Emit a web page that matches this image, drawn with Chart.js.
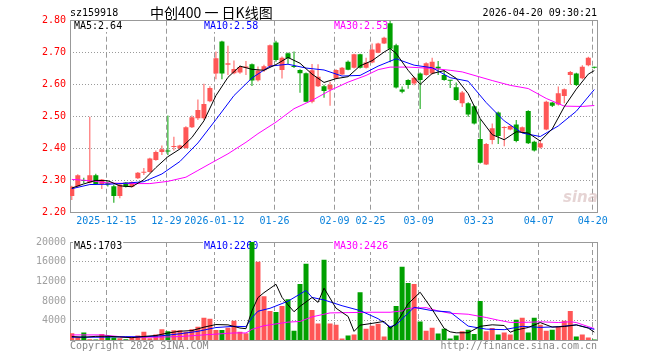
<!DOCTYPE html>
<html>
<head>
<meta charset="utf-8">
<script src="https://cdn.jsdelivr.net/npm/chart.js@4.4.1/dist/chart.umd.min.js"></script>
<style>
  html, body { margin: 0; padding: 0; background: #fff; }
  #wrap { position: relative; width: 660px; height: 360px; overflow: hidden; }
  canvas { position: absolute; left: 0; }
  .txt { position: absolute; font: 10px/12px "DejaVu Sans Mono", monospace; white-space: nowrap; }
</style>
</head>
<body>
<div id="wrap">
  <canvas id="kChart" width="660" height="232" style="top:0"></canvas>
  <canvas id="volChart" width="660" height="128" style="top:232px"></canvas>
  <div class="txt" style="left:70px;top:7px;color:#000">sz159918</div>
  <div class="txt" style="left:150px;top:4px;font:14px/16px 'Noto Sans CJK SC';color:#000">中创400 一 日K线图</div>
  <div class="txt" style="right:63px;top:7px;color:#000">2026-04-20 09:30:21</div>
  <div class="txt" style="left:70px;top:340px;color:#888">Copyright 2026 SINA.COM</div>
  <div class="txt" style="right:63px;top:340px;color:#888">http://finance.sina.com.cn</div>
  <div class="txt" style="left:563px;top:189px;font:italic bold 15px/16px 'DejaVu Sans';color:rgba(205,170,170,.5)">sina</div>
</div>
<script>
// trading days shown (one candle each)
var dates = [
  '2025-12-05','2025-12-08','2025-12-09','2025-12-10','2025-12-11','2025-12-12','2025-12-15','2025-12-16','2025-12-17','2025-12-18',
  '2025-12-19','2025-12-22','2025-12-23','2025-12-24','2025-12-25','2025-12-26','2025-12-29','2025-12-30','2025-12-31','2026-01-05',
  '2026-01-06','2026-01-07','2026-01-08','2026-01-09','2026-01-12','2026-01-13','2026-01-14','2026-01-15','2026-01-16','2026-01-19',
  '2026-01-20','2026-01-21','2026-01-22','2026-01-23','2026-01-26','2026-01-27','2026-01-28','2026-01-29','2026-01-30','2026-02-02',
  '2026-02-03','2026-02-04','2026-02-05','2026-02-06','2026-02-09','2026-02-10','2026-02-11','2026-02-12','2026-02-13','2026-02-24',
  '2026-02-25','2026-02-26','2026-02-27','2026-03-02','2026-03-03','2026-03-04','2026-03-05','2026-03-06','2026-03-09','2026-03-10',
  '2026-03-11','2026-03-12','2026-03-13','2026-03-16','2026-03-17','2026-03-18','2026-03-19','2026-03-20','2026-03-23','2026-03-24',
  '2026-03-25','2026-03-26','2026-03-27','2026-03-30','2026-03-31','2026-04-01','2026-04-02','2026-04-03','2026-04-07','2026-04-08',
  '2026-04-09','2026-04-10','2026-04-13','2026-04-14','2026-04-15','2026-04-16','2026-04-17','2026-04-20'
];
var tickDates = ['2025-12-15','2025-12-29','2026-01-12','2026-01-26','2026-02-09','2026-02-25','2026-03-09','2026-03-23','2026-04-07','2026-04-20'];
var tickText = ['2025-12-15','12-29','2026-01-12','01-26','02-09','02-25','03-09','03-23','04-07','04-20'];

var open = [
  2.252,2.283,2.302,2.294,2.317,2.290,2.292,2.283,2.252,2.294,
  2.281,2.308,2.325,2.327,2.365,2.390,2.393,2.405,2.401,2.402,
  2.467,2.495,2.495,2.548,2.635,2.735,2.662,2.636,2.638,2.653,
  2.664,2.614,2.645,2.657,2.732,2.646,2.698,2.657,2.646,2.636,
  2.547,2.595,2.595,2.585,2.620,2.632,2.672,2.653,2.695,2.653,
  2.669,2.700,2.729,2.792,2.723,2.585,2.615,2.604,2.635,2.630,
  2.635,2.656,2.630,2.613,2.592,2.542,2.542,2.533,2.430,2.351,
  2.427,2.513,2.465,2.460,2.476,2.453,2.518,2.422,2.404,2.460,
  2.544,2.538,2.565,2.630,2.635,2.620,2.661,2.655
];
var high = [
  2.284,2.320,2.309,2.500,2.322,2.305,2.298,2.287,2.292,2.296,
  2.298,2.327,2.340,2.372,2.394,2.410,2.504,2.437,2.412,2.470,
  2.504,2.554,2.603,2.595,2.704,2.737,2.722,2.676,2.660,2.674,
  2.666,2.657,2.662,2.726,2.737,2.688,2.701,2.704,2.648,2.638,
  2.665,2.664,2.600,2.609,2.648,2.655,2.676,2.697,2.697,2.684,
  2.729,2.731,2.750,2.800,2.728,2.594,2.617,2.625,2.638,2.670,
  2.684,2.674,2.646,2.614,2.607,2.580,2.545,2.536,2.492,2.418,
  2.479,2.516,2.470,2.473,2.490,2.469,2.520,2.425,2.427,2.550,
  2.546,2.594,2.588,2.643,2.637,2.661,2.687,2.656
];
var low = [
  2.240,2.280,2.292,2.292,2.288,2.274,2.282,2.231,2.245,2.279,
  2.279,2.305,2.318,2.325,2.362,2.380,2.380,2.394,2.398,2.400,
  2.465,2.490,2.490,2.545,2.617,2.617,2.630,2.633,2.634,2.630,
  2.596,2.610,2.640,2.655,2.672,2.619,2.665,2.652,2.575,2.545,
  2.542,2.593,2.559,2.534,2.617,2.630,2.645,2.651,2.651,2.651,
  2.667,2.698,2.727,2.670,2.588,2.573,2.587,2.598,2.524,2.628,
  2.632,2.630,2.612,2.590,2.550,2.530,2.500,2.476,2.354,2.349,
  2.414,2.415,2.408,2.458,2.420,2.451,2.415,2.391,2.401,2.458,
  2.530,2.535,2.542,2.600,2.596,2.617,2.658,2.651
];
var close = [
  2.281,2.317,2.299,2.317,2.290,2.304,2.288,2.252,2.288,2.281,
  2.296,2.325,2.327,2.369,2.390,2.398,2.391,2.408,2.410,2.467,
  2.498,2.521,2.540,2.590,2.683,2.635,2.667,2.649,2.655,2.657,
  2.613,2.644,2.658,2.723,2.677,2.684,2.683,2.655,2.636,2.547,
  2.645,2.625,2.580,2.600,2.646,2.653,2.647,2.695,2.653,2.669,
  2.710,2.729,2.747,2.712,2.591,2.578,2.599,2.622,2.615,2.667,
  2.672,2.651,2.615,2.612,2.552,2.576,2.507,2.479,2.356,2.415,
  2.464,2.440,2.467,2.471,2.424,2.467,2.417,2.394,2.417,2.547,
  2.534,2.573,2.586,2.640,2.599,2.656,2.684,2.653
];
var volume = [
  1470,670,1600,270,200,1330,930,600,470,270,
  600,1000,1800,470,1200,2270,1870,2070,2070,1800,
  2270,2800,4600,4400,2130,2130,2600,4000,1800,1470,
  20300,16000,9000,6000,5800,7000,8400,2000,11470,15600,
  6200,3470,16400,3470,3200,400,1000,1200,9800,2400,
  3000,3400,800,2800,7000,15000,11670,11470,3870,2000,
  2600,1400,2400,400,1000,1870,2200,1330,8000,1870,
  2530,1200,1600,1200,4200,4600,1600,4600,3200,2000,
  2200,2800,4000,6000,800,1200,600,200
];

// moving average lines, [candle index, value]
var ma5 = [[0,2.277],[2,2.290],[4,2.301],[6,2.300],[8,2.284],[10,2.281],[12,2.303],[14,2.341],[16,2.375],[18,2.399],
  [20,2.435],[22,2.487],[24,2.566],[26,2.623],[28,2.658],[30,2.648],[32,2.645],[34,2.663],[36,2.685],[38,2.667],
  [40,2.633],[42,2.607],[44,2.619],[46,2.625],[48,2.659],[50,2.675],[52,2.702],[53,2.713],[54,2.698],[56,2.645],
  [58,2.601],[60,2.635],[62,2.644],[64,2.620],[66,2.572],[68,2.494],[70,2.444],[72,2.428],[74,2.453],[76,2.449],
  [78,2.424],[80,2.462],[82,2.531],[84,2.586],[86,2.633],[87,2.644]];
var ma10 = [[0,2.275],[3,2.288],[6,2.289],[9,2.292],[12,2.297],[15,2.321],[18,2.360],[21,2.418],[24,2.491],[27,2.566],
  [30,2.621],[33,2.658],[36,2.664],[39,2.652],[42,2.646],[45,2.627],[48,2.629],[51,2.658],[54,2.681],[57,2.661],
  [60,2.653],[63,2.622],[66,2.611],[69,2.544],[72,2.487],[75,2.449],[78,2.438],[81,2.471],[84,2.517],[87,2.585]];
var ma30 = [[0,2.304],[3,2.300],[6,2.293],[10,2.291],[13,2.291],[16,2.298],[19,2.311],[21,2.332],[23,2.353],[26,2.384],
  [29,2.420],[31,2.447],[34,2.483],[37,2.525],[40,2.551],[43,2.582],[46,2.608],[49,2.629],[51,2.647],[53,2.655],
  [56,2.655],[60,2.651],[63,2.645],[65,2.640],[70,2.613],[73,2.598],[76,2.588],[79,2.557],[82,2.533],[85,2.532],[87,2.535]];
var volMa5 = [[0,800],[2,667],[4,840],[6,867],[8,707],[10,573],[12,827],[14,1013],[16,1520],[18,1894],
  [20,2014],[22,2707],[24,3240],[26,3173],[28,2533],[29,2400],[30,6033],[31,8713],[32,9713],[34,11420],
  [35,8760],[36,7240],[37,5840],[38,6933],[40,8733],[41,7747],[42,10627],[44,6547],[46,4893],[47,1853],
  [48,3120],[50,3480],[52,3880],[53,2480],[54,3400],[56,7453],[58,9800],[60,6320],[62,2453],[63,1760],
  [64,1560],[66,1573],[68,2880],[70,3187],[72,3040],[73,1680],[74,2147],[76,2640],[78,3640],[80,2720],
  [82,2840],[84,3160],[86,2520],[87,1703]];
var volMa10 = [[0,667],[5,667],[9,780],[12,747],[15,960],[18,1360],[21,1860],[24,2627],[27,2880],[29,2820],
  [30,4623],[31,5943],[33,6543],[36,7977],[39,10157],[40,8747],[42,8233],[45,7060],[48,6073],[51,4427],
  [53,2800],[54,3180],[57,6733],[60,6060],[63,5780],[66,2920],[69,2307],[72,2200],[75,2873],[78,2660],
  [81,2800],[84,3180],[87,2260]];
var volMa30 = [[0,1133],[5,1133],[9,667],[14,667],[18,800],[22,1133],[27,1533],[29,1533],[30,2267],[32,3000],
  [36,3733],[38,3867],[40,4800],[43,5600],[46,5667],[50,5733],[53,5733],[55,6000],[56,6533],[59,6667],
  [61,6000],[63,5533],[66,5333],[69,4667],[71,4133],[73,3667],[76,3700],[78,3800],[81,3650],[83,3800],
  [84,3650],[86,2820],[87,2426]];

var priceLegend = ['MA5:2.64', 'MA10:2.58', 'MA30:2.53'];
var volLegend = ['MA5:1703', 'MA10:2260', 'MA30:2426'];

var RED = '#ff5656', GREEN = '#00a000';
var MONO = 'DejaVu Sans Mono';
var candleColors = close.map(function (c, i) { return c >= open[i] ? RED : GREEN; });
var tickIdx = tickDates.map(function (d) { return dates.indexOf(d); });

// frame round the plot + MA legend text
var overlay = {
  id: 'overlay',
  beforeDatasetsDraw: function (chart, args, opts) {
    var ctx = chart.ctx, a = chart.chartArea;
    ctx.save();
    ctx.strokeStyle = '#999';
    ctx.lineWidth = 1;
    var l = Math.floor(a.left) + 0.5, t = Math.floor(a.top) + 0.5;
    var r = Math.floor(a.right) + 0.5, b = Math.floor(a.bottom) + 0.5;
    ctx.strokeRect(l, t, r - l, b - t);
    ctx.font = '10px "' + MONO + '"';
    ctx.textBaseline = 'middle';
    opts.items.forEach(function (it) {
      var w = ctx.measureText(it.text).width;
      ctx.fillStyle = '#fff';
      ctx.fillRect(it.x - 1, opts.y - 5, w + 2, 11);
      ctx.fillStyle = it.color;
      ctx.fillText(it.text, it.x, opts.y);
    });
    ctx.restore();
  }
};

function pts(arr) { return arr.map(function (p) { return {x: p[0], y: p[1]}; }); }
function maLine(arr, color) {
  return {type: 'line', data: pts(arr), borderColor: color, borderWidth: 1, pointRadius: 0, tension: 0, fill: false, order: 0};
}
function legendItems(texts) {
  return [{text: texts[0], x: 74, color: '#000'}, {text: texts[1], x: 204, color: '#00f'}, {text: texts[2], x: 334, color: '#f0f'}];
}
function xAxis(showLabels, h) {
  return {
    type: 'linear', min: -0.3, max: 87.5, offset: false,
    afterBuildTicks: function (s) { s.ticks = tickIdx.map(function (i) { return {value: i - 0.25}; }); },
    afterFit: function (s) { s.height = h; },
    ticks: {
      display: showLabels, autoSkip: false, maxRotation: 0, minRotation: 0, padding: 3,
      color: '#0a82dc', font: {family: MONO, size: 10},
      callback: function (v, i) { return tickText[i]; }
    },
    grid: {color: '#9a9a9a', drawTicks: false, offset: false},
    border: {display: false, dash: [5, 3]}
  };
}

new Chart(document.getElementById('kChart'), {
  type: 'bar',
  data: {
    datasets: [
      maLine(ma5, '#000'), maLine(ma10, '#00f'), maLine(ma30, '#f0f'),
      {
        type: 'bar', order: 1,
        data: open.map(function (o, i) { return {x: i, y: [o, close[i]]}; }),
        backgroundColor: candleColors, barThickness: 5, grouped: false, minBarLength: 1, inflateAmount: 0
      },
      {
        type: 'bar', order: 2,
        data: open.map(function (o, i) { return {x: i, y: [low[i], high[i]]}; }),
        backgroundColor: candleColors, barThickness: 1, grouped: false, inflateAmount: 0
      }
    ]
  },
  options: {
    responsive: false, animation: false, events: [],
    layout: {padding: {left: 0, right: 62.7, top: 20.7, bottom: 0}},
    plugins: {legend: {display: false}, tooltip: {enabled: false}, overlay: {items: legendItems(priceLegend), y: 26}},
    scales: {
      x: xAxis(true, 19.3),
      y: {
        min: 2.2, max: 2.8,
        afterFit: function (s) { s.width = 70; },
        ticks: {stepSize: 0.1, padding: 4, color: '#f00', font: {family: MONO, size: 10},
          callback: function (v) { return v.toFixed(2); }},
        grid: {drawTicks: false, color: function (c) {
          var v = c.tick ? c.tick.value : 0;
          return (Math.abs(v - 2.2) < 1e-6 || Math.abs(v - 2.8) < 1e-6) ? 'rgba(0,0,0,0)' : '#9a9a9a';
        }},
        border: {display: false, dash: [1, 2]}
      }
    }
  },
  plugins: [overlay]
});

new Chart(document.getElementById('volChart'), {
  type: 'bar',
  data: {
    datasets: [
      maLine(volMa5, '#000'), maLine(volMa10, '#00f'), maLine(volMa30, '#f0f'),
      {
        type: 'bar', order: 1, clip: 0,
        data: volume.map(function (v, i) { return {x: i, y: v}; }),
        backgroundColor: candleColors, barThickness: 5, grouped: false, inflateAmount: 0
      }
    ]
  },
  options: {
    responsive: false, animation: false, events: [],
    layout: {padding: {left: 0, right: 62.7, top: 8, bottom: 0}},
    plugins: {legend: {display: false}, tooltip: {enabled: false}, overlay: {items: legendItems(volLegend), y: 14}},
    scales: {
      x: xAxis(false, 19.5),
      y: {
        min: 0, max: 20000,
        afterFit: function (s) { s.width = 70; },
        ticks: {stepSize: 4000, padding: 4, color: '#a0a0a0', font: {family: MONO, size: 10},
          callback: function (v) { return v === 0 ? '' : String(v); }},
        grid: {drawTicks: false, color: function (c) {
          var v = c.tick ? c.tick.value : 0;
          return (v === 0 || v === 20000) ? 'rgba(0,0,0,0)' : '#9a9a9a';
        }},
        border: {display: false, dash: [1, 2]}
      }
    }
  },
  plugins: [overlay]
});
</script>
</body>
</html>
